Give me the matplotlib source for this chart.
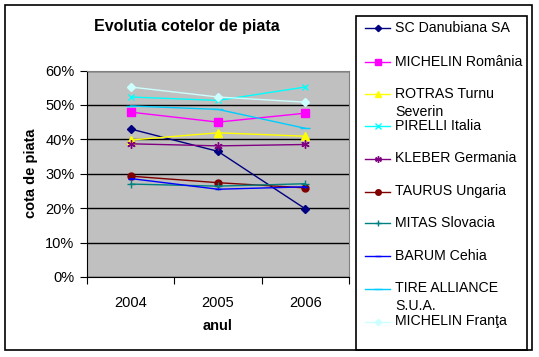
import numpy as np
import matplotlib.pyplot as plt
from matplotlib.lines import Line2D
from matplotlib.patches import Rectangle

plt.rcParams['font.family'] = ['Liberation Sans', 'DejaVu Sans']

# Data
years = ["2004", "2005", "2006"]
labels = ["SC Danubiana SA", "MICHELIN România", "ROTRAS Turnu\nSeverin",
          "PIRELLI Italia", "KLEBER Germania", "TAURUS Ungaria",
          "MITAS Slovacia", "BARUM Cehia", "TIRE ALLIANCE\nS.U.A.",
          "MICHELIN Franţa"]
danubiana = [43.0, 36.5, 19.8]
michelin_ro = [47.9, 45.0, 47.6]
rotras = [39.8, 41.9, 40.9]
pirelli = [52.3, 51.3, 55.2]
kleber = [38.7, 38.1, 38.5]
taurus = [29.3, 27.4, 25.9]
mitas = [27.0, 26.4, 27.1]
barum = [28.6, 25.5, 26.2]
tire_alliance = [49.7, 48.7, 43.2]
michelin_fr = [55.2, 52.3, 50.8]

series = [danubiana, michelin_ro, rotras, pirelli, kleber, taurus,
          mitas, barum, tire_alliance, michelin_fr]
colors = ["#000080", "#FF00FF", "#FFFF00", "#00FFFF", "#800080",
          "#800000", "#008080", "#0000FF", "#00CCFF", "#CCFFFF"]
markers = ["D", "s", "^", "x", (6, 2, 0), "o", "+", "_", "_", "D"]
msizes = [4, 6, 6, 5, 6, 5, 6, 5, 7, 4]

W, H = 539, 357
fig = plt.figure(figsize=(W / 100, H / 100), dpi=100)


def fx(px):
    return px / W


def fy(py):
    return 1 - py / H


# outer frame
fig.patches.append(Rectangle((fx(5), fy(350)), fx(527), (345) / H,
                             transform=fig.transFigure, fill=False,
                             edgecolor="black", linewidth=1.2))

ax = fig.add_axes([fx(87), fy(277), fx(349 - 87), (277 - 70.5) / H])
ax.set_facecolor("#C0C0C0")
for s in ax.spines.values():
    s.set_color("#808080")
ax.spines["left"].set_color("black")
ax.spines["bottom"].set_color("black")

x = np.arange(len(years))
for vals, c, m, ms in zip(series, colors, markers, msizes):
    ax.plot(x, np.array(vals) / 100, color=c, marker=m, markersize=ms,
            linewidth=1.0, markeredgewidth=1.0)

ax.set_xlim(-0.5, 2.5)
ax.set_ylim(0, 0.6)
ax.set_yticks(np.arange(0, 0.61, 0.1))
ax.set_yticklabels([f"{int(round(v * 100))}%" for v in np.arange(0, 0.61, 0.1)],
                   fontsize=10.5)
ax.yaxis.grid(True, color="black", linewidth=1)
ax.set_axisbelow(True)
ax.set_xticks([-0.5, 0.5, 1.5, 2.5])
ax.set_xticklabels([])
ax.set_xticks(x, minor=True)
ax.set_xticklabels(years, minor=True, fontsize=10.5)
ax.tick_params(axis="x", which="minor", length=0, pad=14)
ax.tick_params(axis="both", which="major", length=5, direction="out")
ax.tick_params(axis="y", pad=4)

fig.text(fx(187), fy(27), "Evolutia cotelor de piata", fontsize=11.5,
         fontweight="bold", ha="center", va="center")
fig.text(fx(31), fy(173), "cota de piata", fontsize=10.5, fontweight="bold",
         rotation=90, ha="center", va="center")
fig.text(fx(218), fy(326), "anul", fontsize=10.5, fontweight="bold",
         ha="center", va="center")

# legend box
fig.patches.append(Rectangle((fx(356), fy(350)), fx(527 - 356), (350 - 16) / H,
                             transform=fig.transFigure, fill=False,
                             edgecolor="black", linewidth=1.2))
ys = [28, 61.5, 94, 126, 158.5, 191.5, 223, 256, 288.5, 321.5]
for lab, c, m, ms, yy in zip(labels, colors, markers, msizes, ys):
    fig.lines.append(Line2D([fx(365), fx(390)], [fy(yy), fy(yy)],
                            transform=fig.transFigure, color=c,
                            linewidth=1.0))
    fig.lines.append(Line2D([fx(377.5)], [fy(yy)], transform=fig.transFigure,
                            color=c, marker=m, markersize=ms * 0.8,
                            markeredgewidth=1.0))
    for i, part in enumerate(lab.split("\n")):
        fig.text(fx(395), fy(yy + 17.5 * i), part, fontsize=10.2,
                 ha="left", va="center")

fig.savefig("out.png", dpi=100)
